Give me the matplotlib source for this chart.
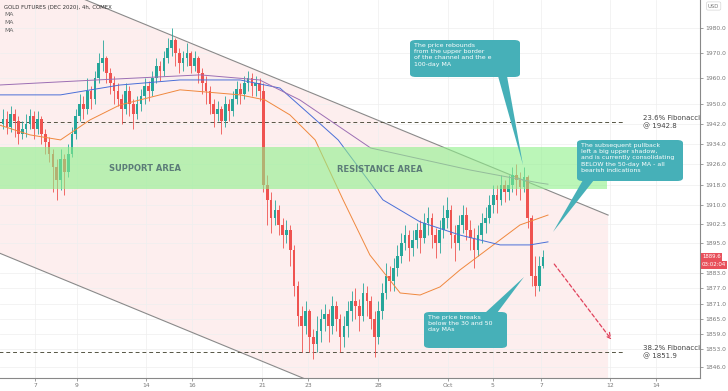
import numpy as np
import matplotlib.pyplot as plt
from matplotlib.patches import Polygon, FancyBboxPatch

# 4h candles, Sept 4 -> Oct 7 2020 (open = previous close), one row per trading day
first_open = 1942.0
closes = [1944, 1941, 1946, 1943, 1938, 1940,
          1942, 1945, 1940, 1944, 1938, 1935,
          1930, 1925, 1920, 1928, 1923, 1930,
          1938, 1945, 1950, 1948, 1955, 1952,
          1960, 1966, 1968, 1962, 1958, 1955,
          1952, 1948, 1955, 1950, 1946, 1950,
          1953, 1957, 1955, 1960, 1965, 1963,
          1968, 1972, 1975, 1970, 1966, 1968,
          1970, 1965, 1968, 1962, 1958, 1955,
          1950, 1946, 1948, 1943, 1950, 1947,
          1952, 1956, 1954, 1958, 1960, 1957,
          1958, 1955, 1918, 1912, 1905, 1908,
          1902, 1898, 1900, 1892, 1878, 1866,
          1862, 1868, 1858, 1855, 1860, 1865,
          1867, 1862, 1870, 1865, 1858, 1862,
          1868, 1872, 1870, 1866, 1875, 1872,
          1865, 1858, 1868, 1875, 1882, 1880,
          1885, 1890, 1895, 1898, 1893, 1896,
          1900, 1897, 1903, 1905, 1898, 1895,
          1900, 1905, 1908, 1898, 1895, 1902,
          1906, 1900, 1897, 1892, 1898, 1903,
          1905, 1910, 1914, 1912, 1918, 1915,
          1918, 1922, 1920, 1917, 1921, 1905,
          1882, 1878, 1886, 1889.6]
highs = [1948, 1947, 1949, 1948, 1945, 1943,
         1946, 1948, 1947, 1947, 1945, 1940,
         1937, 1932, 1928, 1932, 1930, 1934,
         1941, 1948, 1954, 1953, 1960, 1957,
         1963, 1970, 1975, 1969, 1964, 1961,
         1958, 1954, 1958, 1957, 1952, 1953,
         1956, 1960, 1959, 1963, 1968, 1967,
         1971, 1976, 1980, 1976, 1972, 1971,
         1974, 1971, 1971, 1969, 1964, 1961,
         1957, 1952, 1951, 1949, 1953, 1952,
         1955, 1959, 1958, 1961, 1963, 1962,
         1961, 1960, 1958, 1922, 1915, 1912,
         1910, 1905, 1904, 1902, 1894, 1880,
         1870, 1872, 1869, 1861, 1866, 1869,
         1871, 1869, 1874, 1872, 1867, 1866,
         1872, 1876, 1877, 1873, 1879, 1878,
         1874, 1868, 1872, 1879, 1887, 1886,
         1889, 1894, 1899, 1902, 1900, 1900,
         1903, 1904, 1907, 1909, 1907, 1901,
         1904, 1910, 1913, 1910, 1902, 1906,
         1910, 1909, 1904, 1901, 1902, 1907,
         1909, 1914, 1918, 1918, 1922, 1920,
         1922, 1925, 1926, 1923, 1925, 1922,
         1906, 1890, 1890, 1892]
lows = [1940, 1938, 1939, 1937, 1934, 1936,
        1937, 1940, 1936, 1938, 1934, 1930,
        1927, 1915, 1912, 1916, 1914, 1921,
        1929, 1936, 1943, 1944, 1946, 1948,
        1950, 1958, 1963, 1958, 1954, 1950,
        1949, 1942, 1946, 1945, 1940, 1944,
        1947, 1950, 1951, 1953, 1958, 1959,
        1961, 1966, 1969, 1965, 1962, 1963,
        1965, 1962, 1963, 1958, 1954, 1950,
        1946, 1941, 1943, 1938, 1941, 1943,
        1945, 1950, 1950, 1952, 1955, 1953,
        1953, 1951, 1915, 1902, 1899, 1902,
        1898, 1893, 1895, 1886, 1874, 1862,
        1852, 1859, 1852, 1849, 1852, 1856,
        1860, 1856, 1859, 1860, 1852, 1854,
        1858, 1864, 1865, 1860, 1864, 1866,
        1861, 1850, 1855, 1865, 1873, 1876,
        1876, 1882, 1887, 1892, 1888, 1890,
        1893, 1891, 1895, 1898, 1893, 1889,
        1891, 1897, 1901, 1893, 1888, 1892,
        1899, 1896, 1892, 1885, 1890, 1895,
        1899, 1903, 1907, 1907, 1910, 1911,
        1912, 1915, 1914, 1912, 1915, 1901,
        1878, 1874, 1876, 1885]
opens = [first_open] + closes[:-1]

# moving averages (bar index, price)
ma30_x = [-1, 7, 15, 22.7, 30.5, 46.2, 61.9, 68.4, 74.9, 81.5, 88.8, 95.8, 103.7, 108.9, 114.1,
          119.3, 124.5, 129.8, 135, 142.3]
ma30_y = [1941.6, 1937.7, 1935.7, 1943.6, 1949.5, 1955.5, 1953.5, 1951.5, 1945.6, 1935.7, 1912,
          1890.2, 1875.2, 1874.4, 1877.6, 1884.3, 1890.2, 1896.2, 1902.1, 1906]
ma50_x = [-1, 15, 30.5, 46.2, 61.9, 72.3, 80.2, 87.5, 99.2, 108.9, 119.3, 129.8, 137.6, 142.3]
ma50_y = [1953.5, 1953.5, 1957.4, 1959.4, 1959.4, 1956.2, 1945.6, 1935.7, 1912, 1903.3, 1898.1,
          1894.2, 1894.2, 1895.4]
ma100_x = [-1, 24.5, 51.5, 67, 77.5, 96, 122, 140, 142.3]
ma100_y = [1957.4, 1959.4, 1961.4, 1959.4, 1951.5, 1932.5, 1923.8, 1918.7, 1918.2]

# channel, zones, levels
chan_x = [-1, 158]
chan_upper = [2005.1, 1906.0]
chan_lower = [1891.0, 1791.9]
zone_lo, zone_hi = 1916.3, 1932.9
fib_236, fib_382 = 1942.8, 1851.9
proj_x = [143.5, 159.3]
proj_y = [1887.5, 1855.9]

tick_pos = [8.4, 19.3, 37.3, 49.3, 67.6, 79.6, 97.9, 116.2, 127.9, 140.5, 158.5, 170.5]
tick_lab = ['7', '9', '14', '16', '21', '23', '28', 'Oct', '5', '7', '12', '14']
ytick_vals = [1846, 1853, 1859, 1865, 1871, 1877, 1883, 1895, 1902.5, 1910, 1918, 1926, 1934, 1942,
              1950, 1960, 1970, 1980]

UP, DOWN = '#26a69a', '#ef5350'
W, H = 728, 391


def px(x, y):
    return (x / W, 1 - y / H)


fig = plt.figure(figsize=(7.28, 3.91), dpi=100)
ax = fig.add_axes([0, 13 / H, 700 / W, 378 / H])
ax.set_xlim(-0.8, 182)
ax.set_ylim(1841.6, 1991.0)

# channel fill
ax.fill_between(chan_x, chan_lower, chan_upper, color='#fdeeee', zorder=0, lw=0)
ax.plot(chan_x, chan_upper, color='#8a8a8a', lw=0.8, zorder=3)
ax.plot(chan_x, chan_lower, color='#8a8a8a', lw=0.8, zorder=3)

# candles
idx = np.arange(len(closes))
cols = [UP if c >= o else DOWN for o, c in zip(opens, closes)]
ax.vlines(idx, lows, highs, colors=cols, lw=0.6, zorder=4)
bottoms = [min(o, c) for o, c in zip(opens, closes)]
heights = [max(abs(c - o), 0.3) for o, c in zip(opens, closes)]
ax.bar(idx, heights, bottom=bottoms, width=0.7, color=cols, lw=0, zorder=4)

# moving averages
ax.plot(ma30_x, ma30_y, color='#f0883e', lw=0.7, zorder=5)
ax.plot(ma50_x, ma50_y, color='#4a6fd8', lw=0.7, zorder=5)
ax.plot(ma100_x, ma100_y, color='#9c6fb4', lw=0.7, zorder=5)

# support / resistance band
ax.fill_between([-1, 157.7], zone_lo, zone_hi, color='#8ef08a', alpha=0.6, lw=0, zorder=6)
ax.text(37, 1924.6, 'SUPPORT AREA', color='#5c7c78', fontsize=6, fontweight='bold',
        ha='center', va='center', zorder=7)
ax.text(98.5, 1924.0, 'RESISTANCE AREA', color='#5c7c78', fontsize=6, fontweight='bold',
        ha='center', va='center', zorder=7)

# fibonacci levels
ax.plot([-1, 162], [fib_236] * 2, ls=(0, (4, 3)), color='#555544', lw=0.7, zorder=3)
ax.plot([-1, 162], [fib_382] * 2, ls=(0, (4, 3)), color='#555544', lw=0.7, zorder=3)
ax.text(167, fib_236, '23.6% Fibonacci\n@ 1942.8', fontsize=5, color='#444444', va='center',
        linespacing=1.25)
ax.text(167, fib_382, '38.2% Fibonacci\n@ 1851.9', fontsize=5, color='#444444', va='center',
        linespacing=1.25)

# projected move
ax.annotate('', xy=(proj_x[1], proj_y[1]), xytext=(proj_x[0], proj_y[0]),
            arrowprops=dict(arrowstyle='->', color='#e0405a', lw=0.9, ls=(0, (3, 2))), zorder=6)

# axes styling
ax.set_xticks(tick_pos)
ax.set_xticklabels(tick_lab)
ax.set_yticks(ytick_vals)
ax.set_yticklabels(['%.1f' % v for v in ytick_vals])
ax.yaxis.tick_right()
ax.tick_params(axis='both', labelsize=4.3, colors='#777777', length=2, width=0.5, pad=1.5)
ax.grid(True, color='#eeeeee', lw=0.5)
ax.set_axisbelow(True)
for s in ['top', 'left']:
    ax.spines[s].set_visible(False)
for s in ['right', 'bottom']:
    ax.spines[s].set_color('#888888')
    ax.spines[s].set_linewidth(0.8)

# header
fig.text(*px(4, 7), 'GOLD FUTURES (DEC 2020), 4h, COMEX', fontsize=3.9, color='#333333',
         va='center')
for yy in [15, 22.5, 30]:
    fig.text(*px(4, yy), 'MA', fontsize=4.4, color='#666666', va='center')

# callouts
TEAL = '#46b0b8'


def callout(x0, y0, x1, y1, tri, text):
    box = FancyBboxPatch(px(x0, y1), (x1 - x0) / W, (y1 - y0) / H,
                         boxstyle='round,pad=0,rounding_size=0.008', transform=fig.transFigure,
                         fc=TEAL, ec='none', zorder=10)
    fig.patches.append(box)
    fig.patches.append(Polygon([px(*p) for p in tri], closed=True, transform=fig.transFigure,
                               fc=TEAL, ec='none', zorder=10))
    fig.text(*px(x0 + 4, y0 + 3), text, fontsize=4.5, color='white', va='top', ha='left',
             linespacing=1.3, zorder=11)


callout(410, 40, 520, 77, [(498, 76), (507, 76), (523, 165)],
        'The price rebounds\nfrom the upper border\nof the channel and the e\n100-day MA')
callout(577, 140, 683, 181, [(583, 180), (594, 180), (553, 232)],
        'The subsequent pullback\nleft a big upper shadow,\nand is currently consolidating\n'
        'BELOW the 50-day MA - all\nbearish indications')
callout(424, 312, 507, 348, [(485, 313), (497, 313), (524, 277)],
        'The price breaks\nbelow the 30 and 50\nday MAs')

# last price tags
fig.text(*px(702, 257), '1889.6', fontsize=3.9, color='white', va='center',
         bbox=dict(boxstyle='square,pad=0.2', fc='#e8505b', ec='none'))
fig.text(*px(702, 265), '03:02:04', fontsize=3.9, color='white', va='center',
         bbox=dict(boxstyle='square,pad=0.2', fc='#e8505b', ec='none'))
fig.text(*px(708, 6), 'USD', fontsize=3.8, color='#777777', va='center',
         bbox=dict(boxstyle='round,pad=0.3', fc='white', ec='#cccccc', lw=0.4))

fig.savefig('out.png', dpi=100)
